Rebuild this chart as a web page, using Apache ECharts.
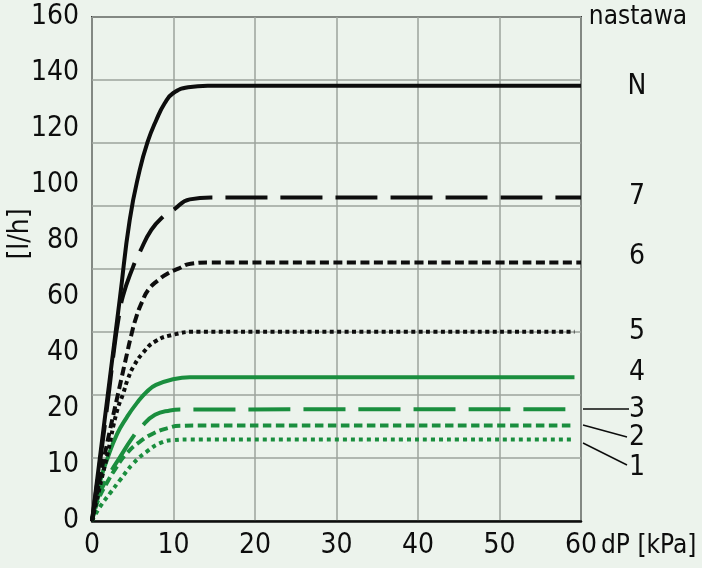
<!DOCTYPE html>
<html>
<head>
<meta charset="utf-8">
<script src="https://cdn.jsdelivr.net/npm/echarts@6/dist/echarts.min.js"></script>
<style>
    html, body { margin: 0; padding: 0; background: #ecf3ec; }
    #chart { width: 702px; height: 568px; }
</style>
</head>
<body>
<div id="chart"></div>
<script>
// tick labels printed on the left (they are spaced evenly, not by value)
const yTickLabels = ['0', '10', '20', '40', '60', '80', '100', '120', '140', '160'];
const xTicks = [0, 10, 20, 30, 40, 50, 60];

// flow [l/h] against dP [kPa] (0..160, step 20)
const curveN = [[0, 0], [0.98, 20.3], [2.21, 45.7], [3.44, 71.1], [4.63, 95.6], [5.85, 111.4], [6.79, 120.1],
    [7.89, 127.3], [8.92, 132.6], [9.94, 135.8], [11.8, 137.7], [14.2, 138.2], [60, 138.2]];
const curve7 = [[0, 0], [0.98, 18.7], [1.96, 38.4], [2.70, 54.3], [3.19, 63.2], [3.80, 71.4], [5.03, 80.6],
    [5.89, 85.5], [7.28, 92.4], [8.71, 96.6], [9.94, 98.7], [12.0, 102.1], [14.6, 102.7], [60, 102.7]];
const curve6 = [[0, 0], [0.98, 13.7], [2.21, 28.9], [3.44, 43.2], [4.17, 51.7], [4.82, 59.0], [5.40, 64.5],
    [6.13, 69.5], [6.91, 73.4], [8.14, 76.5], [9.24, 78.5], [10.6, 80.1], [12.1, 81.7], [14.5, 82.1], [60, 82.1]];
const curve5 = [[0, 0], [0.98, 11.1], [1.96, 21.9], [3.03, 34.6], [3.84, 40.6], [4.42, 45.2], [5.15, 49.3],
    [6.26, 53.4], [7.69, 56.9], [9.73, 59.0], [13.0, 60.1], [59.2, 60.1]];
const curve4 = [[0, 0], [0.98, 12.4], [1.84, 19.4], [3.07, 27.6], [4.29, 33.0], [5.52, 37.5], [6.75, 41.1],
    [7.85, 43.2], [9.82, 44.9], [12.0, 45.6], [59.2, 45.6]];
const curve3 = [[0, 0], [0.74, 7.5], [1.96, 14.0], [3.44, 20.3], [5.03, 26.7], [6.01, 29.8], [7.73, 33.7],
    [9.57, 35.1], [10.8, 35.4], [59.2, 35.5]];
const curve2 = [[0, 0], [0.77, 6.7], [1.80, 12.0], [3.03, 17.2], [4.26, 21.5], [5.89, 25.2], [7.52, 27.8],
    [9.17, 29.4], [10.8, 30.2], [13.3, 30.3], [59.2, 30.3]];
const curve1 = [[0, 0], [0.98, 4.5], [2.21, 8.8], [3.44, 13.0], [5.07, 18.3], [6.71, 22.0], [8.34, 24.7],
    [9.98, 25.7], [12.0, 25.9], [59.2, 25.9]];

const FONT = "'Liberation Sans Narrow', 'DejaVu Sans Condensed', sans-serif";
const BLACK = '#0d0d0d';
const GREEN = '#1a8e3e';

function makeSeries(name, data, color, dash) {
    return {
        type: 'line',
        name: name,
        data: data,
        xAxisIndex: 0,
        yAxisIndex: 0,
        showSymbol: false,
        smooth: 0.5,
        lineStyle: { color: color, width: 4, type: dash, cap: 'butt' }
    };
}

function label(text, x, y, size, align) {
    return {
        type: 'text', x: x, y: y,
        style: { text: text, fill: BLACK, font: (size || 28) + 'px ' + FONT,
            align: align || 'center', verticalAlign: 'middle' }
    };
}
function leader(x1, y1, x2, y2) {
    return { type: 'line', shape: { x1: x1, y1: y1, x2: x2, y2: y2 }, style: { stroke: BLACK, lineWidth: 1.5 } };
}

const chart = echarts.init(document.getElementById('chart'));
chart.setOption({
    animation: false,
    backgroundColor: '#ecf3ec',
    textStyle: { fontFamily: FONT },
    grid: { left: 92, right: 121, top: 17, bottom: 47, show: true, borderColor: '#3a3a3a', borderWidth: 2 },
    xAxis: {
        type: 'value', min: 0, max: 60, interval: 10,
        axisLine: { show: true, lineStyle: { color: BLACK, width: 2.5 } },
        axisTick: { show: false },
        axisLabel: { fontSize: 28, color: BLACK, margin: 11, fontFamily: FONT,
            formatter: v => xTicks.includes(v) ? String(v) : '' },
        splitLine: { show: true, lineStyle: { color: '#9ca39c', width: 1.5 } }
    },
    yAxis: [{
        type: 'value', min: 0, max: 160, interval: 20,
        axisLine: { show: false }, axisTick: { show: false }, axisLabel: { show: false },
        splitLine: { show: true, lineStyle: { color: '#9ca39c', width: 1.5 } }
    }, {
        type: 'category', data: yTickLabels, boundaryGap: false, position: 'left',
        axisLine: { show: false }, axisTick: { show: false }, splitLine: { show: false },
        axisLabel: { interval: 0, fontSize: 28, color: BLACK, margin: 13, fontFamily: FONT }
    }],
    series: [
        makeSeries('1', curve1, GREEN, [4, 4]),
        makeSeries('2', curve2, GREEN, [8.5, 4.5]),
        makeSeries('3', curve3, GREEN, [42, 13]),
        makeSeries('4', curve4, GREEN, 'solid'),
        makeSeries('5', curve5, BLACK, [4, 3.4]),
        makeSeries('6', curve6, BLACK, [9, 4.5]),
        makeSeries('7', curve7, BLACK, [42, 13]),
        makeSeries('N', curveN, BLACK, 'solid')
    ],
    graphic: [
        label('nastawa', 638, 17, 26),
        label('N', 637, 87),
        label('7', 637, 197),
        label('6', 637, 257),
        label('5', 637, 332),
        label('4', 637, 373),
        label('3', 637, 410),
        label('2', 637, 438),
        label('1', 637, 468),
        leader(583, 409, 629, 409),
        leader(583, 425, 627, 437),
        leader(583, 443, 627, 465),
        label('dP [kPa]', 601, 546, 26, 'left'),
        {
            type: 'text', x: 21, y: 234, rotation: Math.PI / 2,
            style: { text: '[l/h]', fill: BLACK, font: '28px ' + FONT, align: 'center', verticalAlign: 'middle' }
        }
    ]
});
</script>
</body>
</html>
